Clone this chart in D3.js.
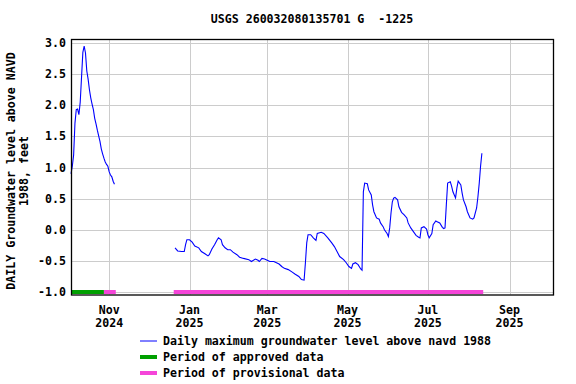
<!DOCTYPE html>
<html>
<head>
<meta charset="utf-8">
<script src="https://cdn.jsdelivr.net/npm/d3@7"></script>
<style>
  body { margin: 0; background: #fff; }
  text { font-family: "DejaVu Sans Mono", monospace; font-weight: bold; font-size: 11.6px; fill: #000; }
</style>
</head>
<body>
<svg></svg>
<script>
// daily values, first run (Oct 3 - Nov 5 2024)
let seg1Dates = ["2024-10-03","2024-10-04","2024-10-05","2024-10-06","2024-10-07","2024-10-08","2024-10-09",
    "2024-10-10","2024-10-11","2024-10-12","2024-10-13","2024-10-14","2024-10-15","2024-10-16","2024-10-17",
    "2024-10-18","2024-10-19","2024-10-20","2024-10-21","2024-10-22","2024-10-23","2024-10-24","2024-10-25",
    "2024-10-26","2024-10-27","2024-10-28","2024-10-29","2024-10-30","2024-10-31","2024-11-01","2024-11-02",
    "2024-11-03","2024-11-04","2024-11-05"];
let seg1Values = [0.90,1.02,1.20,1.71,1.93,1.94,1.85,2.05,2.45,2.85,2.95,2.84,2.55,2.42,2.25,2.12,2.02,1.93,
    1.79,1.70,1.60,1.51,1.42,1.30,1.22,1.15,1.09,1.05,1.02,0.93,0.88,0.85,0.78,0.73];

// second run (Dec 21 2024 - Aug 11 2025)
let seg2Dates = ["2024-12-21","2024-12-23","2024-12-26","2024-12-28","2024-12-29","2024-12-30",
    "2025-01-01","2025-01-03","2025-01-05","2025-01-08","2025-01-10","2025-01-13","2025-01-15","2025-01-16",
    "2025-01-18","2025-01-20","2025-01-22","2025-01-23","2025-01-25","2025-01-26","2025-01-28","2025-01-30",
    "2025-02-01","2025-02-03","2025-02-06","2025-02-08","2025-02-11","2025-02-15","2025-02-17","2025-02-20",
    "2025-02-22","2025-02-23","2025-02-25","2025-02-27","2025-03-01","2025-03-03","2025-03-06","2025-03-08",
    "2025-03-10","2025-03-12","2025-03-14","2025-03-17","2025-03-20","2025-03-22","2025-03-25","2025-03-27",
    "2025-03-29","2025-03-30","2025-03-31","2025-04-01","2025-04-03","2025-04-05","2025-04-07","2025-04-08",
    "2025-04-11","2025-04-13","2025-04-16","2025-04-19","2025-04-21","2025-04-23","2025-04-25","2025-04-28",
    "2025-04-30","2025-05-02","2025-05-04","2025-05-05","2025-05-07","2025-05-09","2025-05-11","2025-05-12",
    "2025-05-13","2025-05-14","2025-05-16","2025-05-17","2025-05-19","2025-05-20","2025-05-21","2025-05-23",
    "2025-05-25","2025-05-26","2025-05-28","2025-05-29","2025-05-31","2025-06-01","2025-06-02","2025-06-03",
    "2025-06-04","2025-06-05","2025-06-06","2025-06-08","2025-06-09","2025-06-11","2025-06-13","2025-06-15",
    "2025-06-16","2025-06-18","2025-06-20","2025-06-22","2025-06-24","2025-06-25","2025-06-26","2025-06-28",
    "2025-06-30","2025-07-01","2025-07-02","2025-07-04","2025-07-05","2025-07-07","2025-07-08","2025-07-10",
    "2025-07-12","2025-07-13","2025-07-14","2025-07-15","2025-07-16","2025-07-18","2025-07-19","2025-07-20",
    "2025-07-22","2025-07-23","2025-07-24","2025-07-26","2025-07-27","2025-07-28","2025-07-30","2025-07-31",
    "2025-08-02","2025-08-04","2025-08-05","2025-08-07","2025-08-08","2025-08-09","2025-08-10","2025-08-11"];
let seg2Values = [-0.29,-0.34,-0.35,-0.35,-0.24,-0.16,
    -0.16,-0.20,-0.26,-0.29,-0.35,-0.39,-0.42,-0.40,
    -0.31,-0.24,-0.16,-0.13,-0.16,-0.24,-0.29,-0.32,
    -0.32,-0.36,-0.40,-0.44,-0.46,-0.48,-0.51,-0.47,
    -0.49,-0.51,-0.46,-0.47,-0.49,-0.51,-0.51,-0.53,
    -0.55,-0.59,-0.62,-0.64,-0.68,-0.71,-0.75,-0.80,
    -0.81,-0.53,-0.21,-0.08,-0.08,-0.13,-0.17,-0.06,
    -0.04,-0.06,-0.13,-0.21,-0.27,-0.35,-0.43,-0.48,
    -0.53,-0.59,-0.62,-0.55,-0.53,-0.56,-0.63,-0.65,
    0.61,0.75,0.74,0.64,0.56,0.40,0.29,0.19,
    0.17,0.11,0.05,0.00,-0.06,-0.11,0.03,0.27,
    0.45,0.51,0.52,0.48,0.37,0.28,0.24,0.19,
    0.11,0.03,-0.03,-0.09,-0.12,-0.13,0.03,0.05,
    0.01,-0.08,-0.13,-0.06,0.08,0.14,0.13,0.11,
    0.04,0.02,0.03,0.40,0.75,0.77,0.70,0.61,
    0.51,0.67,0.78,0.72,0.59,0.48,0.37,0.29,
    0.19,0.17,0.19,0.35,0.53,0.75,1.02,1.23];

// data-approval periods [start, end]
let approvedPeriods = [["2024-10-03", "2024-10-28"]];
let provisionalPeriods = [["2024-10-28", "2024-11-06"], ["2024-12-20", "2025-08-12"]];

let yTicks = [-1.0, -0.5, 0.0, 0.5, 1.0, 1.5, 2.0, 2.5, 3.0];
let xTicks = ["2024-11-01", "2025-01-01", "2025-03-01", "2025-05-01", "2025-07-01", "2025-09-01"];
let legendLabels = ["Daily maximum groundwater level above navd 1988",
    "Period of approved data", "Period of provisional data"];

let parse = d3.utcParse("%Y-%m-%d");
let seg1 = seg1Dates.map((d, i) => ({date: parse(d), v: seg1Values[i]}));
let seg2 = seg2Dates.map((d, i) => ({date: parse(d), v: seg2Values[i]}));

let width = 576, height = 384;
let plotL = 71, plotR = 553, plotT = 39, plotB = 294.5;

let svg = d3.select("svg").attr("width", width).attr("height", height);

let scaleX = d3.scaleUtc()
    .domain([parse("2024-10-03"), parse("2025-10-04")])
    .range([plotL, plotR]);
let scaleY = d3.scaleLinear()
    .domain([-1.04, 3.065])
    .range([plotB, plotT]);

// grid
svg.append("g").selectAll("line").data(yTicks).enter().append("line")
    .attr("x1", plotL).attr("x2", plotR)
    .attr("y1", d => Math.round(scaleY(d)) + 0.5).attr("y2", d => Math.round(scaleY(d)) + 0.5)
    .attr("stroke", "#cccccc").attr("stroke-width", 1);
svg.append("g").selectAll("line").data(xTicks).enter().append("line")
    .attr("x1", d => Math.round(scaleX(parse(d))) + 0.5).attr("x2", d => Math.round(scaleX(parse(d))) + 0.5)
    .attr("y1", plotT).attr("y2", plotB)
    .attr("stroke", "#cccccc").attr("stroke-width", 1);

// approval bars
function drawBars(periods, color) {
    svg.append("g").selectAll("rect").data(periods).enter().append("rect")
        .attr("x", d => scaleX(parse(d[0])))
        .attr("width", d => scaleX(parse(d[1])) - scaleX(parse(d[0])))
        .attr("y", scaleY(-1.0) - 2)
        .attr("height", 4)
        .attr("fill", color);
}
drawBars(approvedPeriods, "#00a000");
drawBars(provisionalPeriods, "#f545d9");

// data line
let lineF = d3.line()
    .x(d => scaleX(d.date))
    .y(d => scaleY(d.v));
[seg1, seg2].forEach(seg => {
    svg.append("path")
        .datum(seg)
        .attr("d", lineF)
        .attr("fill", "none")
        .attr("stroke", "#0000ff")
        .attr("stroke-width", 1.1);
});

// frame
svg.append("rect")
    .attr("x", plotL + 0.5).attr("y", plotT + 0.5)
    .attr("width", plotR - plotL).attr("height", plotB - plotT)
    .attr("fill", "none").attr("stroke", "#000").attr("stroke-width", 1.3);

// y tick labels
svg.append("g").selectAll("text").data(yTicks).enter().append("text")
    .attr("x", 66).attr("y", d => scaleY(d) + 4)
    .attr("text-anchor", "end")
    .text(d => d.toFixed(1));

// x tick labels
let monthFmt = d3.utcFormat("%b"), yearFmt = d3.utcFormat("%Y");
let xl = svg.append("g").selectAll("text").data(xTicks).enter().append("text")
    .attr("text-anchor", "middle");
xl.append("tspan").attr("x", d => scaleX(parse(d))).attr("y", 314).text(d => monthFmt(parse(d)));
xl.append("tspan").attr("x", d => scaleX(parse(d))).attr("y", 327).text(d => yearFmt(parse(d)));

// title
svg.append("text").attr("x", 312).attr("y", 23).attr("text-anchor", "middle")
    .attr("xml:space", "preserve")
    .text("USGS 260032080135701 G  -1225");

// y axis title
let midY = 171;
svg.append("text").attr("text-anchor", "middle")
    .attr("transform", `translate(15, ${midY}) rotate(-90)`)
    .text("DAILY Groundwater level above NAVD");
svg.append("text").attr("text-anchor", "middle")
    .attr("transform", `translate(28, ${midY}) rotate(-90)`)
    .text("1988, feet");

// legend
let legendColors = ["#0000ff", "#00a000", "#f545d9"];
let legendWidths = [1, 4, 4];
let lg = svg.append("g").selectAll("g").data(legendLabels).enter().append("g")
    .attr("transform", (d, i) => `translate(140, ${341 + i * 16})`);
lg.append("line").attr("x1", 0).attr("x2", 17).attr("y1", 0).attr("y2", 0)
    .attr("stroke", (d, i) => legendColors[i])
    .attr("stroke-width", (d, i) => legendWidths[i]);
lg.append("text").attr("x", 23).attr("y", 4).text(d => d);
</script>
</body>
</html>
